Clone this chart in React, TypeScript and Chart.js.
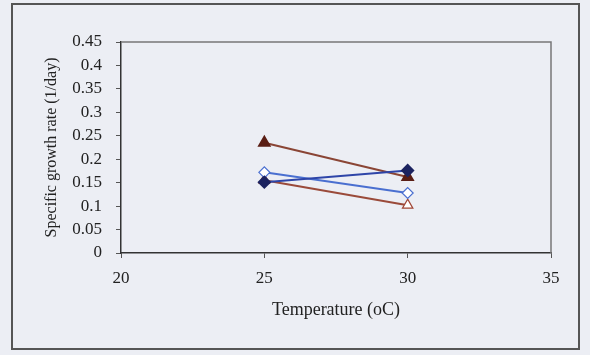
import React, { useEffect, useRef } from "react";
import { Chart, registerables } from "chart.js";

Chart.register(...registerables);

const temperatures = [25, 30];
const filledDiamond = [0.151, 0.176];
const openDiamond = [0.172, 0.128];
const filledTriangle = [0.235, 0.162];
const openTriangle = [0.155, 0.102];

const xTicks = [20, 25, 30, 35];
const yMax = 0.45;

const BG = "#ECEEF4";
const FONT = "'Liberation Serif', 'Times New Roman', serif";

const frame = {
  id: "frame",
  beforeDraw(chart: any) {
    const ctx = chart.ctx;
    ctx.save();
    ctx.fillStyle = BG;
    ctx.fillRect(0, 0, chart.width, chart.height);
    ctx.strokeStyle = "#555";
    ctx.lineWidth = 2;
    ctx.strokeRect(12, 4, 567, 345);
    ctx.restore();
  },
  beforeDatasetsDraw(chart: any) {
    const { left, right, top, bottom } = chart.chartArea;
    const ctx = chart.ctx;
    ctx.save();
    ctx.strokeStyle = "#777";
    ctx.lineWidth = 1.5;
    ctx.beginPath();
    ctx.moveTo(left, top);
    ctx.lineTo(right, top);
    ctx.lineTo(right, bottom);
    ctx.stroke();
    ctx.restore();
  },
};

export default function App() {
  const ref = useRef<HTMLCanvasElement>(null);
  useEffect(() => {
    if (!ref.current) return;
    const pts = (ys: number[]) => temperatures.map((t, i) => ({ x: t, y: ys[i] }));
    const chart = new Chart(ref.current, {
      type: "line",
      data: {
        datasets: [
          {
            data: pts(filledDiamond),
            borderColor: "#2E45A8",
            backgroundColor: "#1C2360",
            pointBorderColor: "#1C2360",
            pointBackgroundColor: "#1C2360",
            pointStyle: "rectRot",
            pointRadius: 5.5,
            borderWidth: 2,
          },
          {
            data: pts(openDiamond),
            borderColor: "#4A6FD0",
            pointBorderColor: "#4A6FD0",
            pointBackgroundColor: "#FFFFFF",
            pointStyle: "rectRot",
            pointRadius: 5.5,
            pointBorderWidth: 1.2,
            borderWidth: 2,
          },
          {
            data: pts(filledTriangle),
            borderColor: "#8A4535",
            pointBorderColor: "#5A1E14",
            pointBackgroundColor: "#5A1E14",
            pointStyle: "triangle",
            pointRadius: 6,
            borderWidth: 2,
          },
          {
            data: pts(openTriangle),
            borderColor: "#9A4A3A",
            pointBorderColor: "#A04535",
            pointBackgroundColor: "#FFFFFF",
            pointStyle: "triangle",
            pointRadius: 6,
            pointBorderWidth: 1.2,
            borderWidth: 2,
          },
        ],
      },
      options: {
        animation: false,
        responsive: false,
        layout: { padding: { top: 42, right: 39, left: 0, bottom: 0 } },
        plugins: { legend: { display: false }, tooltip: { enabled: false } },
        scales: {
          x: {
            type: "linear",
            min: xTicks[0],
            max: xTicks[xTicks.length - 1],
            afterBuildTicks: (s: any) => {
              s.ticks = xTicks.map((v) => ({ value: v }));
            },
            afterFit: (s: any) => {
              s.height = 102;
            },
            grid: { drawOnChartArea: false, drawTicks: true, tickLength: 5, color: "#555" },
            border: { color: "#333", width: 1.5 },
            ticks: { padding: 10, color: "#222", font: { family: FONT, size: 17 }, maxRotation: 0 },
            title: {
              display: true,
              text: "Temperature (oC)",
              color: "#222",
              font: { family: FONT, size: 18 },
              padding: { top: 0, bottom: 34 },
            },
          },
          y: {
            min: 0,
            max: yMax,
            ticks: {
              stepSize: 0.05,
              padding: 14,
              color: "#222",
              font: { family: FONT, size: 17 },
              callback: (v: any) => String(parseFloat(Number(v).toFixed(2))),
            },
            afterFit: (s: any) => {
              s.width = 121;
            },
            grid: { drawOnChartArea: false, drawTicks: true, tickLength: 5, color: "#555" },
            border: { color: "#333", width: 1.5 },
            title: {
              display: true,
              text: "Specific growth rate (1/day)",
              color: "#222",
              font: { family: FONT, size: 16 },
              padding: { top: 42, bottom: 0 },
            },
          },
        },
      },
      plugins: [frame],
    });
    return () => chart.destroy();
  }, []);
  return (
    <div style={{ position: "absolute", left: 0, top: 0, width: 590, height: 355, background: BG }}>
      <canvas ref={ref} width={590} height={355} style={{ width: 590, height: 355, display: "block" }} />
    </div>
  );
}
